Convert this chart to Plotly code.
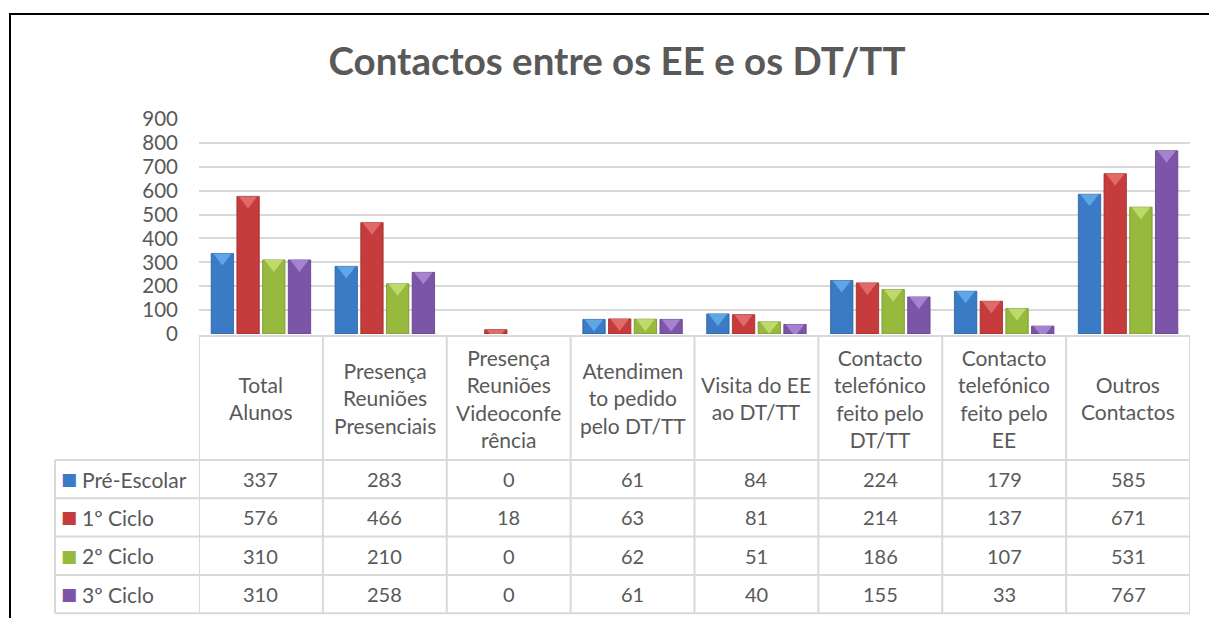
import plotly.graph_objects as go

# ---------------- data ----------------
categories = ["Total Alunos", "Presença Reuniões Presenciais", "Presença Reuniões Videoconferência",
              "Atendimento pedido pelo DT/TT", "Visita do EE ao DT/TT",
              "Contacto telefónico feito pelo DT/TT", "Contacto telefónico feito pelo EE",
              "Outros Contactos"]
header_labels = ["Total<br>Alunos", "Presença<br>Reuniões<br>Presenciais",
                 "Presença<br>Reuniões<br>Videoconfe<br>rência", "Atendimen<br>to pedido<br>pelo DT/TT",
                 "Visita do EE<br>ao DT/TT", "Contacto<br>telefónico<br>feito pelo<br>DT/TT",
                 "Contacto<br>telefónico<br>feito pelo<br>EE", "Outros<br>Contactos"]
series_names = ["Pré-Escolar", "1º Ciclo", "2º Ciclo", "3º Ciclo"]
pre_escolar = [337, 283, 0, 61, 84, 224, 179, 585]
ciclo1 = [576, 466, 18, 63, 81, 214, 137, 671]
ciclo2 = [310, 210, 0, 62, 51, 186, 107, 531]
ciclo3 = [310, 258, 0, 61, 40, 155, 33, 767]
y_ticks = [0, 100, 200, 300, 400, 500, 600, 700, 800, 900]
title_text = "Contactos entre os EE e os DT/TT"

series_values = [pre_escolar, ciclo1, ciclo2, ciclo3]
colors = ["#3B7BC6", "#C63B3B", "#97BA3E", "#7D55A8"]
edge_colors = ["#2A5E9E", "#9A2B2B", "#73902C", "#5E3E82"]
top_colors = ["#5EA6E6", "#E06A6A", "#BFDA6C", "#A583CF"]

# ---------------- layout geometry ----------------
W, H = 1209, 618
ML, MR, MT, MB = 199, 19, 119, 284
PW, PH = W - ML - MR, H - MT - MB
Y_MAX = 900
FONT = "Lato"
TXT = "#595959"
GRID = "#D9D9D9"
BEVEL_SIZE = 16  # marker size of the bevel highlight


def px_x(p):
    return (p - ML) / PW


def px_y(p):
    return (H - MB - p) / PH


# a triangle-down marker's top edge sits r/2 px above its centre -> shift it down by that
bevel_shift = (BEVEL_SIZE / 4) * Y_MAX / PH

xs = list(range(len(categories)))
fig = go.Figure()
for k, (name, vals, c, ec) in enumerate(zip(series_names, series_values, colors, edge_colors)):
    fig.add_trace(go.Bar(x=xs, y=vals, name=name, offsetgroup=str(k),
                         marker=dict(color=c,
                                     line=dict(color=ec, width=[0.8 if v > 0 else 0 for v in vals])),
                         showlegend=False, hoverinfo="y"))
for k, (vals, tc) in enumerate(zip(series_values, top_colors)):
    fig.add_trace(go.Scatter(x=xs, y=[v - bevel_shift if v > 0 else None for v in vals],
                             mode="markers", offsetgroup=str(k),
                             marker=dict(symbol="triangle-down", size=BEVEL_SIZE, color=tc,
                                         line=dict(width=0)),
                             showlegend=False, hoverinfo="skip", cliponaxis=True))

# table geometry (pixels)
table_top = 336
header_bottom = 460
row_h = 38.3
row_lines = [header_bottom + i * row_h for i in range(5)]
legend_left = 55

shapes = []
line_style = dict(color=GRID, width=2)
shapes.append(dict(type="line", xref="x", yref="paper", x0=-0.5, x1=len(categories) - 0.5,
                   y0=px_y(table_top), y1=px_y(table_top), line=line_style))
for r in row_lines:
    shapes.append(dict(type="line", xref="paper", yref="paper", x0=px_x(legend_left), x1=1,
                       y0=px_y(r), y1=px_y(r), line=line_style))
for i in range(len(categories) + 1):
    shapes.append(dict(type="line", xref="x", yref="paper", x0=i - 0.5, x1=i - 0.5,
                       y0=px_y(table_top), y1=px_y(row_lines[-1]), line=line_style))
shapes.append(dict(type="line", xref="paper", yref="paper", x0=px_x(legend_left), x1=px_x(legend_left),
                   y0=px_y(header_bottom), y1=px_y(row_lines[-1]), line=line_style))
# outer chart border
shapes.append(dict(type="rect", xref="paper", yref="paper", x0=px_x(10), x1=px_x(W + 20),
                   y0=px_y(14), y1=px_y(H + 20), line=dict(color="#000000", width=2)))

annotations = []
for i, lab in enumerate(header_labels):
    annotations.append(dict(xref="x", yref="paper", x=i, y=px_y((table_top + header_bottom) / 2),
                            text=lab, showarrow=False, xanchor="center", yanchor="middle",
                            font=dict(family=FONT, size=21, color=TXT)))
for s, (name, vals, c) in enumerate(zip(series_names, series_values, colors)):
    yc = px_y(row_lines[s] + row_h / 2)
    annotations.append(dict(xref="paper", yref="paper", x=px_x(59), y=yc,
                            text="■", showarrow=False, xanchor="left", yanchor="middle",
                            font=dict(family="DejaVu Sans", size=17, color=c)))
    annotations.append(dict(xref="paper", yref="paper", x=px_x(80), y=yc, text=name,
                            showarrow=False, xanchor="left", yanchor="middle",
                            font=dict(family=FONT, size=21, color=TXT)))
    for i, v in enumerate(vals):
        annotations.append(dict(xref="x", yref="paper", x=i, y=yc, text=str(v), showarrow=False,
                                xanchor="center", yanchor="middle",
                                font=dict(family=FONT, size=20, color=TXT)))

fig.update_layout(
    width=W, height=H,
    margin=dict(l=ML, r=MR, t=MT, b=MB),
    paper_bgcolor="white", plot_bgcolor="white",
    barmode="group", bargap=0.17, bargroupgap=0.13,
    scattermode="group", scattergap=0.17,
    title=dict(text=f"<b>{title_text}</b>", x=617 / W, xanchor="center", xref="container",
               y=1 - 62 / H, yanchor="middle", yref="container",
               font=dict(family=FONT, size=38.5, color=TXT)),
    xaxis=dict(range=[-0.5, len(categories) - 0.5], showticklabels=False, showgrid=False,
               zeroline=False, showline=False, ticks=""),
    yaxis=dict(range=[0, Y_MAX], tickvals=y_ticks, showgrid=True, gridcolor=GRID, gridwidth=1.5,
               zeroline=False, showline=False, ticks="", ticklabelstandoff=20,
               tickfont=dict(family=FONT, size=20.5, color=TXT)),
    shapes=shapes, annotations=annotations,
    showlegend=False,
)

fig.write_html("out.html", config={"displayModeBar": False},
               post_script="document.body.style.margin='0';document.body.style.overflow='hidden';")
